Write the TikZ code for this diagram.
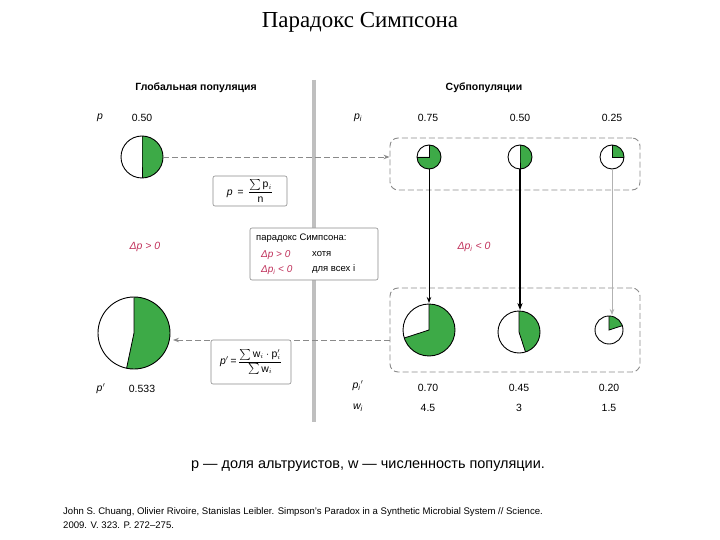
\documentclass[tikz,border=0pt]{standalone}
\usepackage{amsmath}
\usepackage{fontspec}
\setmainfont{Liberation Serif}
\setsansfont{Liberation Sans}
\usetikzlibrary{arrows.meta}
\definecolor{pg}{HTML}{3DAA47}
\definecolor{dred}{HTML}{C0305A}
\definecolor{dg}{HTML}{8A8A8A}
\tikzset{
  lbl/.style={font=\sffamily\fontsize{10.5}{12}\selectfont,inner sep=0pt},
  hdr/.style={font=\sffamily\bfseries\fontsize{10.5}{12}\selectfont,inner sep=0pt},
  fbox/.style={draw=dg,rounded corners=2pt,fill=white,line width=0.6pt,font=\sffamily\fontsize{10.5}{12}\selectfont,inner sep=2pt},
  grp/.style={draw=dg,dashed,dash pattern=on 6pt off 3pt,rounded corners=8pt,line width=0.9pt},
  darr/.style={draw=dg,dashed,dash pattern=on 6pt off 3pt,line width=0.9pt,-{Stealth[length=6pt]}},
}
\newcommand{\pie}[4]{% name, center, radius, fraction
  \coordinate (#1) at #2;
  \fill[white] (#1) circle (#3);
  \fill[pg] (#1) -- ++(-90:#3) arc[start angle=-90,end angle={-90+360*#4},radius=#3] -- cycle;
  \draw[line width=0.8pt] (#1) ++(-90:#3) -- (#1) -- ++({-90+360*#4}:#3);
  \draw[line width=0.9pt] (#1) circle (#3);
}
\begin{document}
\begin{tikzpicture}[x=1bp,y=-1bp]
\useasboundingbox (0,0) rectangle (720,540);
\node[font=\fontsize{23}{26}\selectfont] (title) at (360,22) {Парадокс Симпсона};
\node[hdr] (h1) at (196,88) {Глобальная популяция};
\node[hdr] (h2) at (484,88) {Субпопуляции};
\draw[line width=4pt,black!25] (314,80) -- (314,422);
% top labels
\node[lbl] (pl) at (100,118) {\itshape p};
\node[lbl] (pv) at (142,118) {0.50};
\node[lbl] (pil) at (358,118) {\itshape p\textsubscript{i}};
\node[lbl] (a1) at (428,118) {0.75};
\node[lbl] (a2) at (520,118) {0.50};
\node[lbl] (a3) at (612,118) {0.25};
% top group
\node[grp,minimum width=250bp,minimum height=52bp] (tg) at (515,164) {};
\pie{P}{(142,157)}{21}{0.5}
\pie{A}{(429,157)}{12}{0.75}
\pie{B}{(520,157)}{12}{0.5}
\pie{C}{(612,157)}{12}{0.25}
\draw[darr] (163,157) -- (tg.west |- P);
\node[fbox,minimum width=74bp,minimum height=30bp] (f1) at (250,191) {\itshape p \,=\, $\dfrac{\sum \mathsf{p}_i}{\mathsf{n}}$};
% bottom group
\node[grp,minimum width=250bp,minimum height=84bp] (bg) at (515,330) {};
\pie{Q}{(134,333)}{36}{0.533}
\pie{D}{(429,330)}{26}{0.70}
\pie{E}{(519,332)}{21}{0.45}
\pie{F}{(609,330)}{14}{0.20}
\draw[line width=0.8pt,-{Stealth[length=6pt]}] (429,169) -- (429,303);
\draw[line width=1.6pt,-{Stealth[length=7pt]}] (520,169) -- (520,310);
\draw[line width=0.8pt,black!30,-{Stealth[length=6pt]}] (612,169) -- (612,315);
\draw[darr] (bg.west |- 0,340) -- (173,340);
\node[fbox,minimum width=80bp,minimum height=44bp] (f2) at (251,362) {\itshape p$'$\,=\,$\dfrac{\sum \mathsf{w}_i\cdot \mathsf{p}_i'}{\sum \mathsf{w}_i}$};
\node[lbl,text=dred] (dp) at (145,247) {\itshape Δp > 0};
\node[lbl,text=dred] (dpi) at (474,247) {\itshape Δp\textsubscript{i} < 0};
\node[fbox,minimum width=128bp,minimum height=52bp] (cb) at (314,254) {};
\node[lbl,anchor=west,font=\sffamily\fontsize{9.5}{10}\selectfont] (c1) at (256,238) {парадокс Симпсона:};
\node[lbl,anchor=west,text=dred,font=\sffamily\itshape\fontsize{10}{10}\selectfont] (c2) at (261,255) {Δp > 0};
\node[lbl,anchor=west,font=\sffamily\fontsize{9.5}{10}\selectfont] (c3) at (312,254) {хотя};
\node[lbl,anchor=west,text=dred,font=\sffamily\itshape\fontsize{10}{10}\selectfont] (c4) at (261,270) {Δp\textsubscript{i} < 0};
\node[lbl,anchor=west,font=\sffamily\fontsize{9.5}{10}\selectfont] (c5) at (312,269) {для всех i};
% bottom labels
\node[lbl] (ppl) at (101,389) {\itshape p$'$};
\node[lbl] (ppv) at (142,389) {0.533};
\node[lbl] (pil2) at (358,386) {\itshape p\textsubscript{i}$'$};
\node[lbl] (b1) at (428,388) {0.70};
\node[lbl] (b2) at (519,388) {0.45};
\node[lbl] (b3) at (609,388) {0.20};
\node[lbl] (wl) at (358,408) {\itshape w\textsubscript{i}};
\node[lbl] (w1) at (428,408) {4.5};
\node[lbl] (w2) at (519,408) {3};
\node[lbl] (w3) at (609,408) {1.5};
\node[font=\sffamily\fontsize{14.5}{16}\selectfont] (cap) at (368,466) {p — доля альтруистов, w — численность популяции.};
\node[anchor=north west,align=left,font=\sffamily\fontsize{9.6}{14}\selectfont,inner sep=0pt] (ref) at (63,507) {John S. Chuang, Olivier Rivoire, Stanislas Leibler. Simpson's Paradox in a Synthetic Microbial System // Science.\\2009. V. 323. P. 272--275.};
\end{tikzpicture}
\end{document}
